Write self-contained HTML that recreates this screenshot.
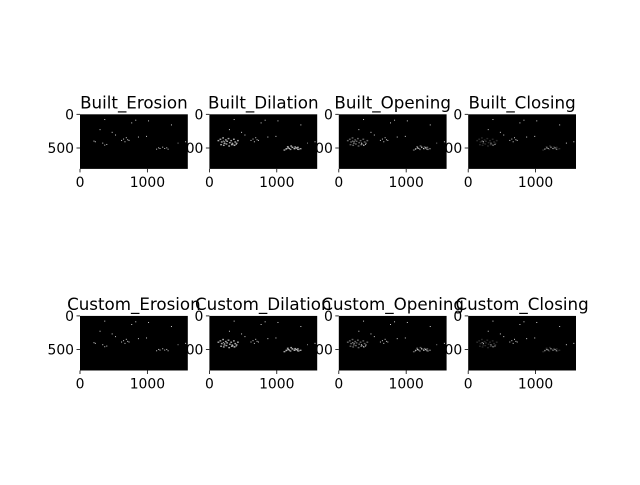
<!DOCTYPE html>
<html><head><meta charset="utf-8"><style>
html,body{margin:0;padding:0;background:#fff;}
svg text{font-family:"DejaVu Sans","Liberation Sans",sans-serif;}
</style></head><body>
<svg id="fig" width="640" height="480" viewBox="0 0 640 480" xmlns="http://www.w3.org/2000/svg">
<rect width="640" height="480" fill="#fff"/>
</svg>
<script>
const titles = ["Built_Erosion","Built_Dilation","Built_Opening","Built_Closing","Custom_Erosion","Custom_Dilation","Custom_Opening","Custom_Closing"];
const xTicks = [0,1000];
const yTicks = [0,500];
const imgW = 1600, imgH = 810;
const sparseX = [200,220,330,360,390,520,610,640,660,680,700,720,1130,1160,1180,1220,1250,1280,1300,1450,1560,820,1350,980,470,1010,360,290,760,860];
const sparseY = [390,400,420,450,440,300,380,360,400,340,370,380,510,490,500,480,500,490,510,420,400,80,150,320,260,90,70,220,120,330];
const clusterX = [120,150,170,190,210,230,250,270,290,310,330,350,370,390,410,160,200,240,280,320,360,1100,1130,1160,1190,1220,1250,1280,1310,1340,1150,1200,1260,1300];
const clusterY = [380,360,400,340,420,370,390,350,410,380,430,360,400,420,380,440,450,430,460,440,450,520,500,490,510,480,500,490,510,500,470,460,475,480];
const clusterWeight = [0,1,0.6,0.25,0,1,0.6,0.25];

const svg = document.getElementById('fig');
const NS = 'http://www.w3.org/2000/svg';
const axW = 107.8, axH = axW*imgH/imgW;
const lefts = [80,209.4,338.8,468.2];
const centers = [141.6,343.2];
function mk(tag, attrs){const e=document.createElementNS(NS,tag);for(const k in attrs)e.setAttribute(k,attrs[k]);return e;}
titles.forEach((t,i)=>{
  const col=i%4,row=Math.floor(i/4);
  const x0=lefts[col], y0=centers[row]-axH/2;
  const sx=v=>x0+v/imgW*axW, sy=v=>y0+v/imgH*axH;
  const g=mk('g',{});
  
  
  svg.appendChild(g);
  const r=mk('rect',{x:x0,y:y0,width:axW,height:axH,fill:'#000'});
  
  
  g.appendChild(r);
  sparseX.forEach((px,k)=>{
    const c=mk('rect',{x:sx(px),y:sy(sparseY[k]),width:1,height:1,fill:'#fff',opacity:0.8});
    
    
    g.appendChild(c);
  });
  const w=clusterWeight[i];
  if(w>0){clusterX.forEach((px,k)=>{
    const c=mk('rect',{x:sx(px),y:sy(clusterY[k]),width:1.8,height:1.4,fill:'#ccc',opacity:w*0.8});
    
    
    g.appendChild(c);
  });}
  const tt=mk('text',{x:x0+axW/2,y:y0-6,'font-size':16.7,'text-anchor':'middle',fill:'#000'});
  tt.textContent=t;
  
  
  g.appendChild(tt);
  xTicks.forEach(v=>{
    const X=sx(v);
    g.appendChild(mk('line',{x1:X,x2:X,y1:y0+axH,y2:y0+axH+3.5,stroke:'#000','stroke-width':0.8}));
    const l=mk('text',{x:X,y:y0+axH+18,'font-size':13.9,'text-anchor':'middle',fill:'#000'});
    l.textContent=v;
    
    
    g.appendChild(l);
  });
  yTicks.forEach(v=>{
    const Y=sy(v);
    g.appendChild(mk('line',{x1:x0-3.5,x2:x0,y1:Y,y2:Y,stroke:'#000','stroke-width':0.8}));
    const l=mk('text',{x:x0-6,y:Y+5,'font-size':13.9,'text-anchor':'end',fill:'#000'});
    l.textContent=v;
    
    
    g.appendChild(l);
  });
});
</script>
</body></html>
